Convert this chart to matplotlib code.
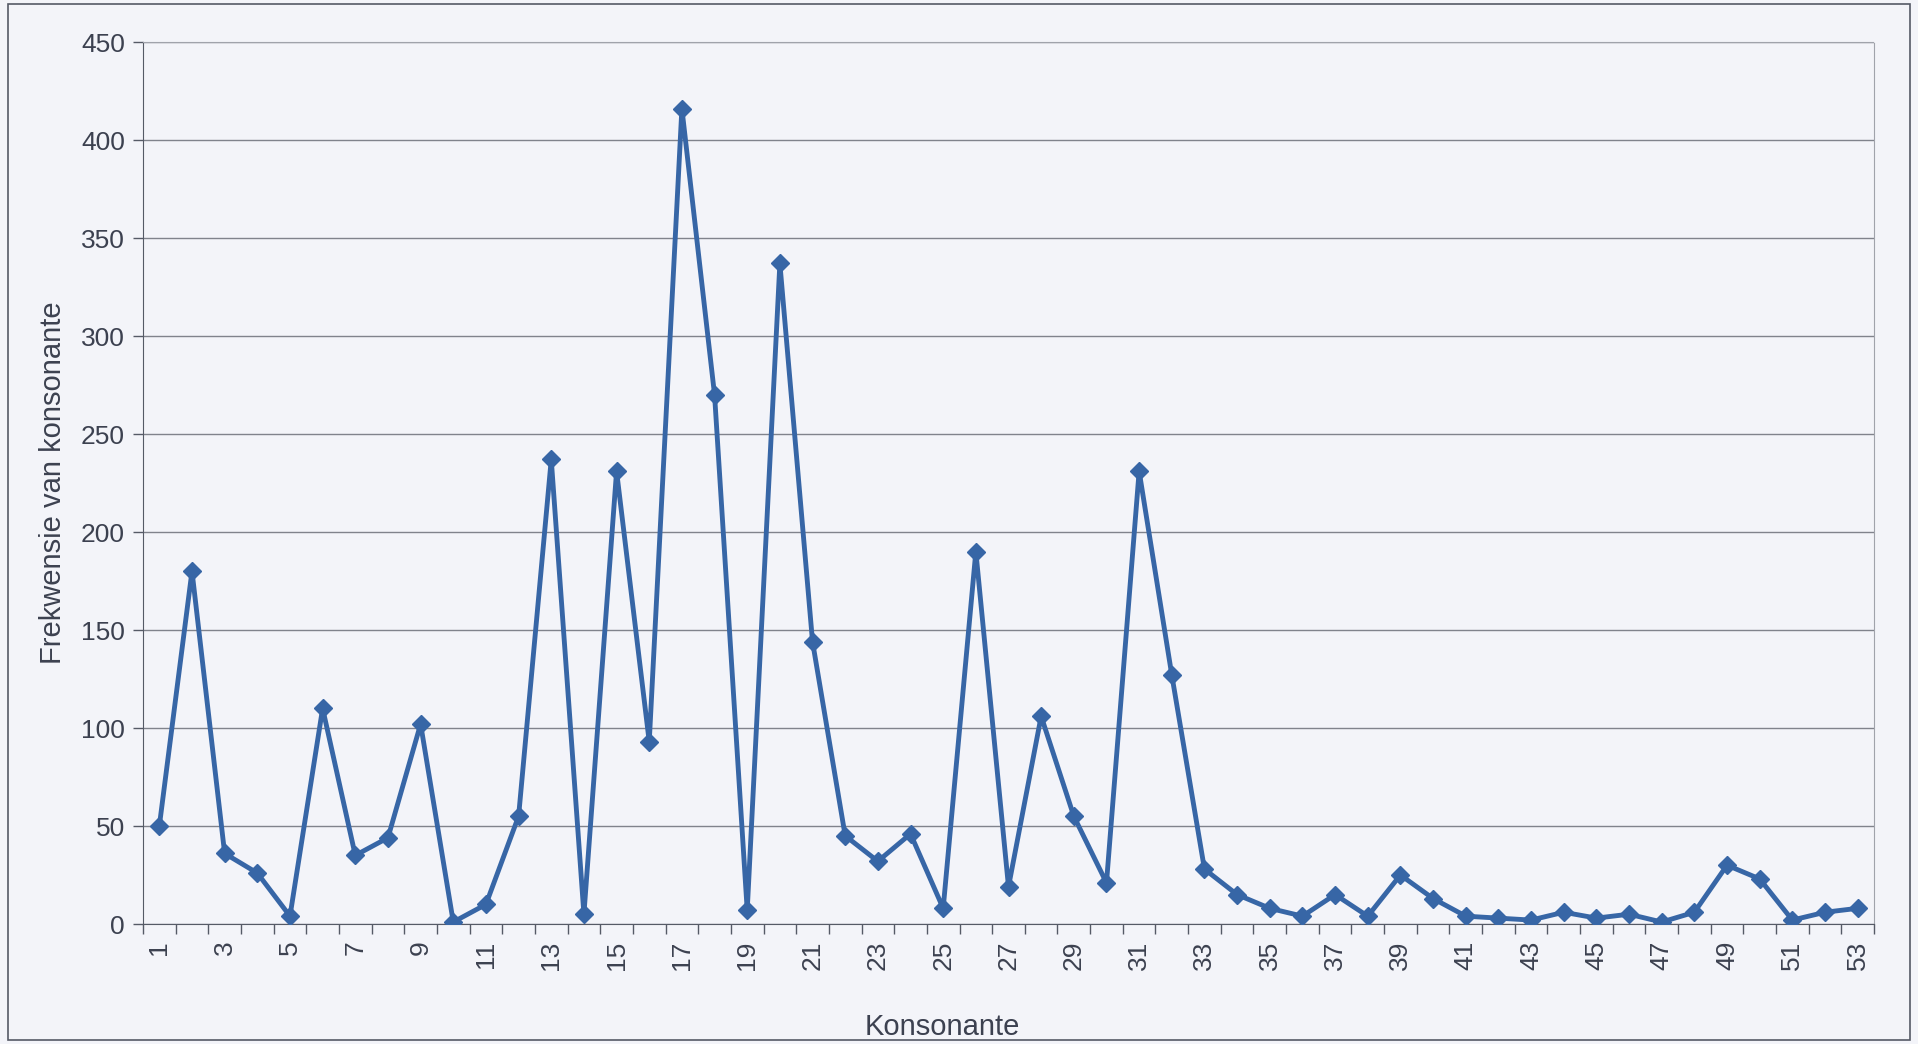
import matplotlib.pyplot as plt
from matplotlib.patches import Rectangle

plt.rcParams['font.family'] = ['Liberation Sans', 'DejaVu Sans']

# Frekwensie per konsonant (1..53)
konsonant = list(range(1, 54))
frekwensie = [50, 180, 36, 26, 4, 110, 35, 44, 102, 1,
              10, 55, 237, 5, 231, 93, 416, 270, 7, 337,
              144, 45, 32, 46, 8, 190, 19, 106, 55, 21,
              231, 127, 28, 15, 8, 4, 15, 4, 25, 13,
              4, 3, 2, 6, 3, 5, 1, 6, 30, 23,
              2, 6, 8]
y_ticks = [0, 50, 100, 150, 200, 250, 300, 350, 400, 450]

bg = '#f3f4f9'
blou = '#3766a6'
teks = '#3c4150'

fig = plt.figure(figsize=(19.18, 10.44), dpi=100, facecolor=bg)
ax = fig.add_axes([143 / 1918, 1 - 924 / 1044, (1874 - 143) / 1918, (924 - 42) / 1044])
ax.set_facecolor(bg)

# buitenste raam
fig.patches.append(Rectangle((0.004, 0.004), 0.992, 0.992, transform=fig.transFigure,
                             fill=False, edgecolor='#555a66', linewidth=1.2))

ax.plot(konsonant, frekwensie, color=blou, linewidth=3.5, marker='D', markersize=9.5,
        markerfacecolor=blou, markeredgecolor=blou, zorder=3)

ax.set_xlim(0.5, 53.5)
ax.set_ylim(0, 450)
ax.set_yticks(y_ticks)
ax.grid(axis='y', color='#80838c', linewidth=1.0)
ax.set_axisbelow(True)

# kategorie-as: merkies tussen kategorieë, etikette op die onewe nommers
ax.set_xticks([k + 0.5 for k in range(0, 54)], minor=False)
ax.set_xticklabels([])
ax.set_xticks(konsonant[::2], minor=True)
ax.set_xticklabels([str(k) for k in konsonant[::2]], minor=True, rotation=90)
ax.tick_params(axis='x', which='major', length=7, color='#555a66', width=1.0)
ax.tick_params(axis='x', which='minor', length=0, pad=12, labelsize=19, labelcolor=teks)
ax.tick_params(axis='y', length=7, color='#555a66', width=1.0, labelsize=19, labelcolor=teks, pad=6)

for s in ['top', 'right']:
    ax.spines[s].set_color('#a0a3ab')
    ax.spines[s].set_linestyle((0, (1, 1)))
ax.spines['left'].set_color('#555a66')
ax.spines['bottom'].set_color('#555a66')

ax.set_xlabel('Konsonante', fontsize=21, color=teks)
ax.xaxis.set_label_coords(0.462, -0.101)
ax.set_ylabel('Frekwensie van konsonante', fontsize=21, color=teks, labelpad=10)

fig.savefig('out.png', dpi=100, facecolor=bg)
